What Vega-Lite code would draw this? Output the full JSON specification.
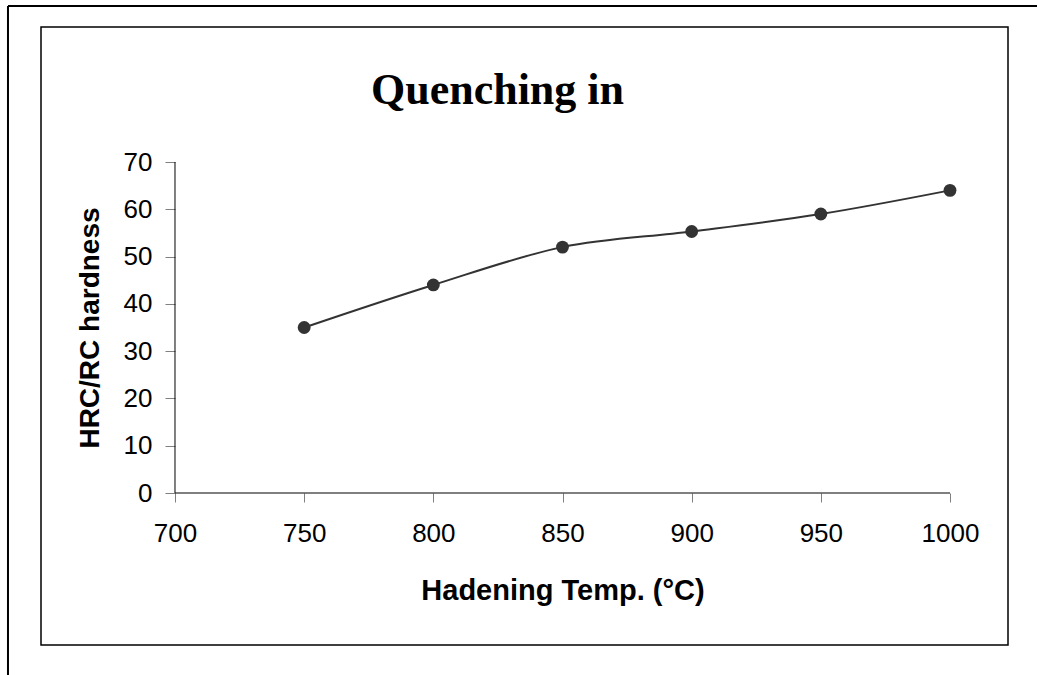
{
  "$schema": "https://vega.github.io/schema/vega-lite/v6.json",
  "width": 967,
  "height": 618,
  "autosize": "none",
  "padding": {"left": 41, "top": 27, "right": 29, "bottom": 30},
  "background": "white",
  "config": {
    "view": {"stroke": "black", "strokeWidth": 1.5},
    "axis": {
      "grid": false,
      "labelFont": "Liberation Sans",
      "titleFont": "Liberation Sans",
      "labelColor": "black",
      "titleColor": "black"
    }
  },
  "resolve": {"axis": {"x": "independent"}},
  "datasets": {
    "hardness": [
      {"temp": 750, "hrc": 35},
      {"temp": 800, "hrc": 44},
      {"temp": 850, "hrc": 52},
      {"temp": 900, "hrc": 55.3},
      {"temp": 950, "hrc": 59},
      {"temp": 1000, "hrc": 64}
    ]
  },
  "layer": [
    {
      "data": {"name": "hardness"},
      "mark": {"type": "line", "interpolate": "monotone", "color": "#333333", "strokeWidth": 2},
      "encoding": {
        "x": {
          "field": "temp",
          "type": "quantitative",
          "scale": {"domain": [648.13, 1022.45], "nice": false, "zero": false},
          "axis": {
            "orient": "bottom",
            "offset": -152,
            "values": [700, 750, 800, 850, 900, 950, 1000],
            "format": "d",
            "domain": false,
            "tickColor": "#808080",
            "tickSize": 9,
            "labelFontSize": 26,
            "labelPadding": 18,
            "labelFlush": false,
            "labelOverlap": false,
            "title": "Hadening Temp. (°C)",
            "titleFontSize": 29,
            "titleFontWeight": "bold",
            "titleX": 521.5,
            "titleY": 97,
            "titleAlign": "center",
            "titleBaseline": "middle"
          }
        },
        "y": {
          "field": "hrc",
          "type": "quantitative",
          "scale": {"domain": [-32.145, 98.55], "nice": false, "zero": false},
          "axis": {
            "orient": "left",
            "offset": -134,
            "values": [0, 10, 20, 30, 40, 50, 60, 70],
            "domain": false,
            "tickColor": "#808080",
            "tickSize": 10,
            "labelFontSize": 26,
            "labelPadding": 13,
            "labelFlush": false,
            "labelOverlap": false,
            "title": "HRC/RC hardness",
            "titleFontSize": 28,
            "titleFontWeight": "bold",
            "titleAngle": -90,
            "titleX": -85,
            "titleY": 300.5,
            "titleAlign": "center",
            "titleBaseline": "middle"
          }
        }
      }
    },
    {
      "data": {"name": "hardness"},
      "mark": {"type": "point", "filled": true, "shape": "circle", "size": 165, "color": "#333333", "opacity": 1},
      "encoding": {
        "x": {
          "field": "temp",
          "type": "quantitative",
          "axis": {
            "orient": "top",
            "domain": false,
            "ticks": false,
            "labels": false,
            "grid": false,
            "title": "Quenching in",
            "titleFont": "Liberation Serif",
            "titleFontSize": 44,
            "titleFontWeight": "bold",
            "titleColor": "black",
            "titleX": 456,
            "titleY": 76,
            "titleAlign": "center",
            "titleBaseline": "alphabetic"
          }
        },
        "y": {"field": "hrc", "type": "quantitative"}
      }
    },
    {
      "data": {"values": [{}]},
      "mark": {"type": "rule", "color": "black", "strokeWidth": 2},
      "encoding": {
        "x": {"datum": 635.35, "type": "quantitative", "axis": null},
        "y": {"datum": 102.99, "type": "quantitative"},
        "y2": {"datum": -38.49}
      }
    },
    {
      "data": {"values": [{}]},
      "mark": {"type": "rule", "color": "black", "strokeWidth": 2},
      "encoding": {
        "x": {"datum": 635.35, "type": "quantitative", "axis": null},
        "x2": {"datum": 1033.68},
        "y": {"datum": 102.99, "type": "quantitative"}
      }
    },
    {
      "data": {"values": [{}]},
      "mark": {"type": "rule", "color": "black", "strokeWidth": 1},
      "encoding": {
        "x": {"datum": 700, "type": "quantitative", "axis": null},
        "x2": {"datum": 1000},
        "y": {"datum": 0, "type": "quantitative"}
      }
    },
    {
      "data": {"values": [{}]},
      "mark": {"type": "rule", "color": "black", "strokeWidth": 1},
      "encoding": {
        "x": {"datum": 700, "type": "quantitative", "axis": null},
        "y": {"datum": 0, "type": "quantitative"},
        "y2": {"datum": 70}
      }
    }
  ]
}
